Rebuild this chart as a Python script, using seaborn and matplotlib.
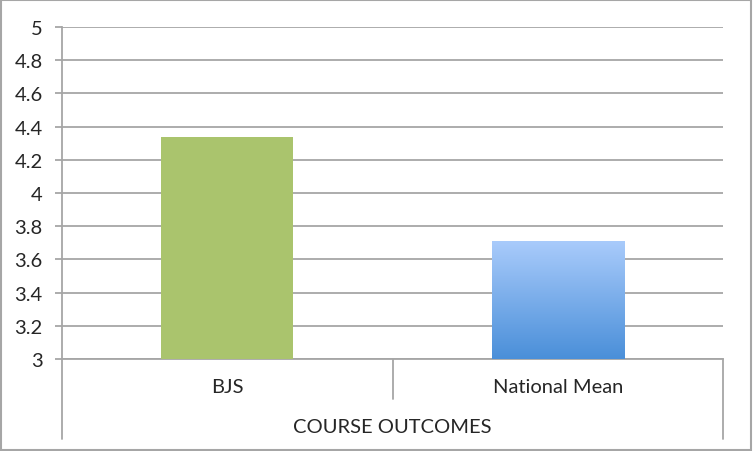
import numpy
import seaborn
import pandas
import matplotlib
matplotlib.use('Agg')
import matplotlib.pyplot as pyplt
from matplotlib.colors import LinearSegmentedColormap
from matplotlib.patches import Rectangle

categories = ['BJS', 'National Mean']
scores = [4.34, 3.71]
group_label = 'COURSE OUTCOMES'
yticks = [3, 3.2, 3.4, 3.6, 3.8, 4, 4.2, 4.4, 4.6, 4.8, 5]
ytick_labels = ['3', '3.2', '3.4', '3.6', '3.8', '4', '4.2', '4.4', '4.6', '4.8', '5']

seaborn.set_style('white')
pyplt.rcParams['font.family'] = ['Lato', 'DejaVu Sans']

data = pandas.DataFrame({'category': categories, 'score': scores})

fig = pyplt.figure(figsize=(7.53, 4.52), dpi=100)
ax = fig.add_axes([62 / 753, 1 - 360 / 452, 661 / 753, 332 / 452])

grid_color = '#a6a6a6'
fs = 14.5

seaborn.barplot(
    data=data,
    x='category',
    y='score',
    hue='category',
    palette=['#aac46d', '#7fb0ee'],
    saturation=1,
    width=0.4,
    legend=False,
    ax=ax,
    zorder=3,
)

# gradient fill for the second bar
blue = LinearSegmentedColormap.from_list('blue', ['#4a8fd9', '#a9cbfb'])
patch = ax.patches[1]
x0, y0 = patch.get_x(), 3
x1, y1 = x0 + patch.get_width(), patch.get_height()
patch.set_facecolor('none')
patch.set_edgecolor('none')
ax.patches[0].set_edgecolor('none')
grad = numpy.linspace(0, 1, 256).reshape(-1, 1)
ax.imshow(grad, cmap=blue, origin='lower', aspect='auto',
          extent=[x0, x1, y0, y1], zorder=3)
ax.set_xlim(-0.5, 1.5)
ax.set_ylim(3, 5)

ax.set_yticks(yticks)
ax.set_yticklabels(ytick_labels, fontsize=fs)
ax.yaxis.grid(True, color=grid_color, linewidth=1.3, zorder=0)
ax.set_axisbelow(True)
ax.tick_params(axis='y', direction='out', length=5, width=1.3, color=grid_color, pad=9, left=True)
ax.set_xticks([])
ax.set_xlabel('')
ax.set_ylabel('')

for side in ['top', 'right']:
    ax.spines[side].set_visible(False)
for side in ['left', 'bottom']:
    ax.spines[side].set_color(grid_color)
    ax.spines[side].set_linewidth(1.3)

# multi-level category axis
trans = ax.get_xaxis_transform()
px = 1 / 332
ax.plot([0.5, 0.5], [0, -40 * px], transform=trans, color=grid_color, lw=1.3, clip_on=False)
for xpos in [-0.5, 1.5]:
    ax.plot([xpos, xpos], [0, -80 * px], transform=trans, color=grid_color, lw=1.3, clip_on=False)
for i, cat in enumerate(categories):
    ax.text(i, -28 * px, cat, transform=trans, ha='center', va='center', fontsize=fs)
ax.text(0.5, -68 * px, group_label, transform=trans, ha='center', va='center', fontsize=fs)

fig.patches.append(Rectangle((0.001, 0.002), 0.997, 0.995, transform=fig.transFigure,
                             fill=False, edgecolor='#a6a6a6', linewidth=1.5))

fig.savefig('out.png', dpi=100)
